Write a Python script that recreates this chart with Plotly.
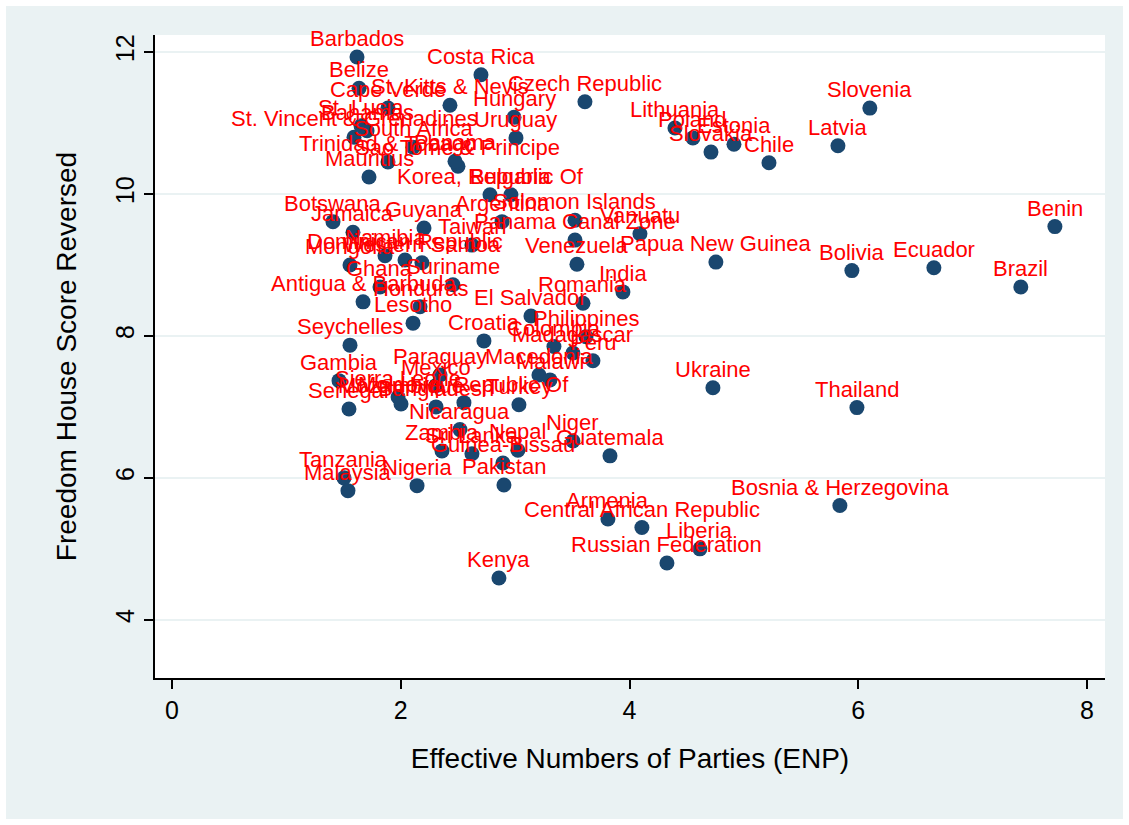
import plotly.graph_objects as go

countries = [
    "Barbados", "Costa Rica", "Belize", "Cape Verde", "St. Kitts & Nevis", "Czech Republic",
    "Hungary", "Uruguay", "St. Lucia", "Bahamas", "St. Vincent & Grenadines", "South Africa",
    "Trinidad & Tobago", "Mauritius", "Sao Tome & Principe", "Panama", "Korea, Republic Of",
    "Bulgaria", "Argentina", "Solomon Islands", "Panama Canal Zone", "Vanuatu", "Venezuela",
    "Papua New Guinea", "Botswana", "Jamaica", "Guyana", "Dominican Republic", "Namibia",
    "Taiwan", "Mongolia", "Western Samoa", "Ghana", "Suriname", "Antigua & Barbuda",
    "Honduras", "Lesotho", "India", "Romania", "El Salvador", "Seychelles", "Croatia",
    "Philippines", "Colombia", "Madagascar", "Peru", "Macedonia", "Malawi", "Gambia",
    "Paraguay", "Mexico", "Sierra Leone", "Mozambique", "Senegal", "Bangladesh",
    "Moldova, Republic Of", "Turkey", "Nicaragua", "Zambia", "Sri Lanka", "Nepal",
    "Guinea-Bissau", "Niger", "Guatemala", "Tanzania", "Malaysia", "Nigeria", "Pakistan",
    "Kenya", "Armenia", "Central African Republic", "Liberia", "Russian Federation",
    "Bosnia & Herzegovina", "Ukraine", "Thailand", "Slovenia", "Lithuania", "Poland",
    "Slovakia", "Estonia", "Chile", "Latvia", "Benin", "Bolivia", "Ecuador", "Brazil",
]

enp = [
    1.617, 2.701, 1.635, 1.888, 2.430, 3.610,
    2.990, 3.007, 1.652, 1.705, 1.591, 2.107,
    1.888, 1.722, 2.500, 2.474, 2.780,
    2.963, 2.885, 3.523, 3.523, 4.091, 3.540,
    4.755, 1.407, 1.582, 2.203, 2.037, 1.862,
    2.622, 1.556, 2.185, 1.818, 2.456, 1.670,
    2.168, 2.107, 3.942, 3.593, 3.138, 1.556, 2.727,
    3.619, 3.339, 3.505, 3.680, 3.208, 3.304, 1.460,
    2.343, 2.308, 1.976, 2.002, 1.547, 2.308,
    2.552, 3.033, 2.517, 2.360, 2.622, 3.024,
    2.893, 3.505, 3.829, 1.503, 1.538, 2.142, 2.902,
    2.858, 3.811, 4.108, 4.615, 4.327,
    5.839, 4.729, 5.988, 6.101, 4.397, 4.554,
    4.712, 4.913, 5.219, 5.822, 7.719, 5.944, 6.661, 7.421,
]

fh_reversed = [
    11.93, 11.68, 11.49, 11.21, 11.25, 11.30,
    11.08, 10.79, 10.96, 10.89, 10.80, 10.66,
    10.45, 10.24, 10.39, 10.46, 9.99,
    9.99, 9.61, 9.63, 9.35, 9.44, 9.01,
    9.04, 9.61, 9.46, 9.52, 9.07, 9.13,
    9.28, 9.00, 9.03, 8.69, 8.72, 8.48,
    8.41, 8.18, 8.62, 8.46, 8.28, 7.87, 7.93,
    7.99, 7.85, 7.76, 7.65, 7.45, 7.38, 7.37,
    7.45, 7.30, 7.14, 7.04, 6.97, 7.00,
    7.06, 7.03, 6.68, 6.38, 6.34, 6.39,
    6.21, 6.52, 6.31, 6.00, 5.82, 5.89, 5.90,
    4.59, 5.42, 5.30, 5.00, 4.80,
    5.61, 7.27, 6.99, 11.21, 10.93, 10.79,
    10.59, 10.70, 10.44, 10.68, 9.54, 8.92, 8.96, 8.69,
]

x_ticks = [0, 2, 4, 6, 8]
y_ticks = [4, 6, 8, 10, 12]

W, H = 1129, 825
ml, mr, mt, mb = 155, 24, 35, 147
pw = W - ml - mr
ph = H - mt - mb
font = "Liberation Sans, Arial"

fig = go.Figure()
fig.add_trace(go.Scatter(
    x=enp, y=fh_reversed, text=countries,
    mode="markers",
    marker=dict(size=15, color="#1A476F", line=dict(width=0)),
    cliponaxis=False, hoverinfo="text",
))

annotations = [
    dict(x=xv, y=yv, text=name, xref="x", yref="y", showarrow=False,
         xanchor="center", yanchor="bottom", yshift=4,
         font=dict(color="#FF0000", size=22, family=font))
    for name, xv, yv in zip(countries, enp, fh_reversed)
]

fig.update_layout(
    width=W, height=H,
    margin=dict(l=ml, r=mr, t=mt, b=mb),
    paper_bgcolor="#EAF2F3", plot_bgcolor="white",
    showlegend=False,
    font=dict(family=font, color="black"),
    annotations=annotations,
    xaxis=dict(
        range=[-0.149, 8.157], tickvals=x_ticks, ticks="outside", ticklen=9,
        tickcolor="black", tickwidth=1.5, showline=True, linecolor="black", linewidth=1.5,
        showgrid=False, zeroline=False, tickfont=dict(size=25, family=font),
        title=dict(text="Effective Numbers of Parties (ENP)", font=dict(size=28, family=font), standoff=26),
    ),
    yaxis=dict(
        range=[3.18, 12.24], tickvals=y_ticks, ticks="outside", ticklen=9,
        tickcolor="black", tickwidth=1.5, showline=True, linecolor="black", linewidth=1.5,
        showgrid=True, gridcolor="#EAF2F3", gridwidth=2, zeroline=False,
        tickangle=-90, tickfont=dict(size=25, family=font),
        title=dict(text="Freedom House Score Reversed", font=dict(size=28, family=font), standoff=26),
    ),
    shapes=[dict(
        type="rect", xref="paper", yref="paper",
        x0=-ml / pw, x1=1 + mr / pw, y0=-mb / ph, y1=1 + mt / ph,
        line=dict(color="white", width=12), fillcolor="rgba(0,0,0,0)", layer="above",
    )],
)

fig.write_html("out.html")
